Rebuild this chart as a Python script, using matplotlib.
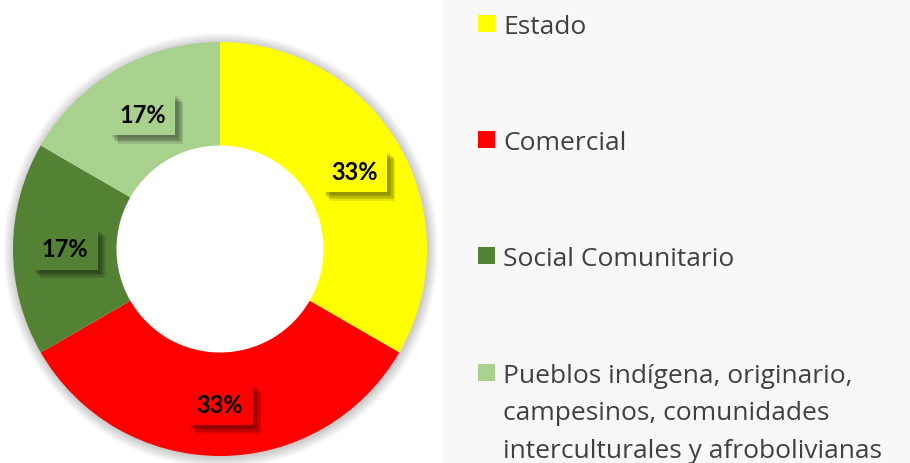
import matplotlib.pyplot as plt
from matplotlib.patches import Rectangle, Wedge
import matplotlib.patheffects as pe
import numpy as np

# data
categories = ['Estado', 'Comercial', 'Social Comunitario',
              'Pueblos indígena, originario,\ncampesinos, comunidades\ninterculturales y afrobolivianas']
counts = [2, 2, 1, 1]
colors = ['#FFFF00', '#FF0000', '#548235', '#A9D18E']

fig = plt.figure(figsize=(9.1, 4.64), dpi=100)

# light legend panel on the right
fig.patches.append(Rectangle((443 / 910, 0), 1 - 443 / 910, 1, transform=fig.transFigure,
                             facecolor='#F8F8F8', edgecolor='none', zorder=0))

# donut axes, centered at (220, 250) px with radius 207 px
r_px = 207
lim = 1.06
ax = fig.add_axes([(220 - r_px * lim) / 910, (464 - 250 - r_px * lim) / 464,
                   2 * r_px * lim / 910, 2 * r_px * lim / 464])

total = sum(counts)
wedges, _ = ax.pie(counts, colors=colors, startangle=90, counterclock=False,
                   radius=1, wedgeprops=dict(width=0.5, edgecolor='none'))
ax.set_xlim(-lim, lim)
ax.set_ylim(-lim, lim)
ax.axis('off')

# soft shadow around the outer edge of the ring
for i in range(10):
    ax.add_patch(Wedge((0.004, -0.006), 1 + 0.005 * (i + 1), 0, 360, width=0.06 + 0.005 * i,
                       facecolor='black', alpha=0.018, edgecolor='none', zorder=0))

# soft offset shadow for the label boxes
box_shadow = [pe.SimplePatchShadow(offset=(o, -o), shadow_rgbFace='black', alpha=0.1)
              for o in (6, 5, 4, 3, 2)] + [pe.Normal()]

# percentage labels in shadowed boxes
for w, c, col in zip(wedges, counts, colors):
    ang = np.deg2rad((w.theta1 + w.theta2) / 2)
    x, y = 0.75 * np.cos(ang), 0.75 * np.sin(ang)
    t = ax.text(x, y, f'{round(100 * c / total)}%', ha='center', va='center',
                fontsize=17, fontweight='bold', family='Lato', color='black', zorder=5,
                bbox=dict(boxstyle='square,pad=0.4', facecolor=col, edgecolor='none'))
    t.get_bbox_patch().set_path_effects(box_shadow)

# legend
legend_base = [34, 150, 266, 383]
line_step = 37.5
for lab, col, base in zip(categories, colors, legend_base):
    fig.patches.append(Rectangle((478 / 910, 1 - (base - 1) / 464), 17 / 910, 17 / 464,
                                 transform=fig.transFigure, facecolor=col,
                                 edgecolor='none', zorder=2))
    for k, line in enumerate(lab.split('\n')):
        fig.text(503 / 910, 1 - (base + k * line_step) / 464, line, ha='left',
                 va='baseline', fontsize=19, family='Open Sans', color='#404040')

fig.savefig('out.png', dpi=100)
